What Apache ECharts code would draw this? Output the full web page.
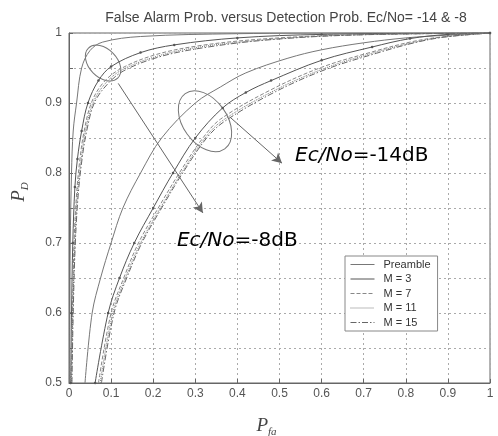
<!DOCTYPE html>
<html>
<head>
<meta charset="utf-8">
<script src="https://cdn.jsdelivr.net/npm/echarts@6/dist/echarts.min.js"></script>
<style>
  html, body { margin: 0; padding: 0; background: #fff; }
  #main { width: 498px; height: 436px; }
</style>
</head>
<body>
<div id="main"></div>
<script>
// axis ticks
var xTicks = [0, 0.1, 0.2, 0.3, 0.4, 0.5, 0.6, 0.7, 0.8, 0.9, 1];
var yTicks = [0.5, 0.6, 0.7, 0.8, 0.9, 1];

// Ec/No = -8dB  [Pfa, Pd]
var preamble8 = [[0.001,0.5],[0.002,0.6],[0.003,0.7],[0.006,0.8],[0.01,0.86],[0.018,0.9],[0.03,0.95],[0.05,0.975],[0.08,0.987],[0.17,0.995],[0.4,0.999],[0.7,1],[1,1]];
var m3_8 = [[0.004,0.5],[0.006,0.6],[0.009,0.7],[0.014,0.78],[0.02,0.82],[0.03,0.86],[0.045,0.9],[0.07,0.932],[0.1,0.952],[0.17,0.972],[0.25,0.983],[0.4,0.993],[0.6,0.998],[1,1]];
var m7_8 = [[0.005,0.5],[0.008,0.6],[0.012,0.7],[0.018,0.77],[0.026,0.82],[0.036,0.86],[0.053,0.9],[0.08,0.928],[0.12,0.948],[0.2,0.968],[0.3,0.981],[0.45,0.991],[0.65,0.997],[1,1]];
var m11_8 = [[0.006,0.5],[0.009,0.6],[0.014,0.7],[0.02,0.77],[0.029,0.82],[0.039,0.86],[0.057,0.9],[0.085,0.927],[0.125,0.947],[0.21,0.967],[0.31,0.98],[0.46,0.99],[0.66,0.997],[1,1]];
var m15_8 = [[0.007,0.5],[0.01,0.6],[0.015,0.7],[0.022,0.77],[0.031,0.82],[0.042,0.86],[0.06,0.9],[0.09,0.926],[0.13,0.946],[0.215,0.966],[0.32,0.979],[0.47,0.99],[0.67,0.997],[1,1]];

// Ec/No = -14dB  [Pfa, Pd]
var preamble14 = [[0.038,0.5],[0.055,0.6],[0.075,0.65],[0.1,0.7],[0.128,0.75],[0.17,0.8],[0.22,0.85],[0.3,0.9],[0.36,0.923],[0.42,0.943],[0.52,0.964],[0.6,0.976],[0.7,0.986],[0.8,0.993],[0.9,0.997],[1,1]];
var m3_14 = [[0.062,0.5],[0.093,0.6],[0.12,0.65],[0.155,0.7],[0.2,0.75],[0.247,0.8],[0.3,0.85],[0.365,0.893],[0.42,0.915],[0.48,0.932],[0.6,0.961],[0.72,0.98],[0.81,0.992],[0.9,0.998],[1,1]];
var m7_14 = [[0.07,0.5],[0.1,0.6],[0.13,0.65],[0.165,0.7],[0.212,0.75],[0.262,0.8],[0.318,0.85],[0.36,0.877],[0.48,0.919],[0.6,0.951],[0.72,0.973],[0.81,0.987],[0.88,0.994],[1,1]];
var m11_14 = [[0.074,0.5],[0.104,0.6],[0.134,0.65],[0.17,0.7],[0.217,0.75],[0.267,0.8],[0.323,0.85],[0.365,0.875],[0.485,0.917],[0.605,0.949],[0.725,0.972],[0.815,0.986],[0.885,0.994],[1,1]];
var m15_14 = [[0.077,0.5],[0.107,0.6],[0.137,0.65],[0.173,0.7],[0.22,0.75],[0.27,0.8],[0.327,0.85],[0.37,0.874],[0.49,0.916],[0.61,0.948],[0.73,0.971],[0.82,0.986],[0.89,0.994],[1,1]];

// annotations (data coords)
var ellipse8 = [0.081, 0.957];
var ellipse14 = [0.323, 0.874];
var arrow8 = [[0.117, 0.928], [0.318, 0.743]];
var arrow14 = [[0.382, 0.88], [0.506, 0.814]];
var label8 = [0.2565, 0.703];
var label14 = [0.537, 0.824];

var FONT = 'Liberation Sans, Arial, sans-serif';

function mk(name, data, color, type, extra) {
  var s = {
    name: name, type: 'line', data: data, smooth: 0.35,
    showSymbol: false, symbol: 'none',
    lineStyle: { color: color, width: 1, type: type },
    itemStyle: { color: color },
    silent: true
  };
  for (var k in extra) s[k] = extra[k];
  return s;
}
var dot = { showSymbol: true, symbol: 'circle', symbolSize: 2.5 };
var dashDot = [6, 2, 1.5, 2];

var series = [
  mk('Preamble', preamble14, '#777', 'solid', {}),
  mk('M = 3', m3_14, '#555', 'solid', dot),
  mk('M = 7', m7_14, '#888', 'dashed', {}),
  mk('M = 11', m11_14, '#777', 'dotted', {}),
  mk('M = 15', m15_14, '#666', dashDot, {}),
  mk('Preamble', preamble8, '#777', 'solid', {}),
  mk('M = 3', m3_8, '#555', 'solid', dot),
  mk('M = 7', m7_8, '#888', 'dashed', {}),
  mk('M = 11', m11_8, '#777', 'dotted', {}),
  mk('M = 15', m15_8, '#666', dashDot, {})
];
// arrows
series.push({
  type: 'line', data: [], silent: true,
  markLine: {
    silent: true, symbol: ['none', 'arrow'], symbolSize: [8, 10],
    label: { show: false },
    lineStyle: { color: '#666', width: 1, type: 'solid' },
    data: [
      [{ coord: arrow8[0] }, { coord: arrow8[1] }],
      [{ coord: arrow14[0] }, { coord: arrow14[1] }]
    ]
  }
});

var nameRich = {
  p: { fontFamily: 'Liberation Serif, serif', fontStyle: 'italic', fontSize: 19, color: '#444' },
  s: { fontFamily: 'Liberation Serif, serif', fontStyle: 'italic', fontSize: 11, color: '#444', padding: [13, 0, 0, 0] }
};

var option = {
  animation: false,
  backgroundColor: '#fff',
  title: {
    text: 'False Alarm Prob. versus Detection Prob. Ec/No= -14 & -8',
    left: 281, top: 6, textAlign: 'center',
    textStyle: { fontFamily: FONT, fontSize: 14, fontWeight: 'normal', color: '#444' }
  },
  grid: {
    left: 69, right: 8, top: 33, bottom: 53, outerBoundsMode: 'none', containLabel: false,
    show: true, borderColor: '#666', borderWidth: 1
  },
  legend: {
    orient: 'vertical', left: 345, top: 256,
    data: ['Preamble', 'M = 3', 'M = 7', 'M = 11', 'M = 15'],
    backgroundColor: '#fff', borderColor: '#888', borderWidth: 1,
    padding: [3, 7, 3, 5], itemGap: 3.5, itemWidth: 24, itemHeight: 11,
    itemStyle: { opacity: 0 },
    lineStyle: { width: 1 },
    textStyle: { fontFamily: FONT, fontSize: 11, color: '#333', padding: [0, 0, 0, 4] }
  },
  xAxis: {
    type: 'value', min: 0, max: 1, interval: 0.1,
    name: '{p|P}{s|fa}', nameLocation: 'middle', nameGap: 31,
    nameTextStyle: { rich: nameRich, padding: [0, 26, 0, 0] },
    axisLine: { lineStyle: { color: '#666' } },
    axisTick: { inside: true, length: 4, lineStyle: { color: '#666' } },
    axisLabel: { fontFamily: FONT, fontSize: 12, color: '#555', margin: 5 },
    splitLine: { lineStyle: { color: '#aaa', type: [2, 3] } }
  },
  yAxis: {
    type: 'value', min: 0.5, max: 1, interval: 0.05,
    name: '{p|P}{s|D}', nameLocation: 'middle', nameGap: 38, nameRotate: 90,
    nameTextStyle: { rich: nameRich, padding: [0, 0, 0, 32] },
    axisLine: { lineStyle: { color: '#666' } },
    axisTick: { inside: true, length: 4, lineStyle: { color: '#666' } },
    axisLabel: {
      fontFamily: FONT, fontSize: 12, color: '#555', margin: 7,
      formatter: function (v) {
        var r = Math.round(v * 100);
        return r % 10 === 0 ? String(r / 100) : '';
      }
    },
    splitLine: { lineStyle: { color: '#aaa', type: [2, 3] } }
  },
  series: series
};

var chart = echarts.init(document.getElementById('main'));
chart.setOption(option);

function px(p) { return chart.convertToPixel({ gridIndex: 0 }, p); }
var e8 = px(ellipse8), e14 = px(ellipse14), t8 = px(label8), t14 = px(label14);
var labelRich = {
  i: { fontFamily: 'DejaVu Sans, sans-serif', fontStyle: 'italic', fontSize: 20, color: '#777' },
  n: { fontFamily: 'DejaVu Sans, sans-serif', fontSize: 20, color: '#777' }
};
chart.setOption({
  graphic: [
    { type: 'ellipse', x: e8[0], y: e8[1], rotation: -0.8, silent: true,
      shape: { cx: 0, cy: 0, rx: 21, ry: 14 }, style: { fill: 'none', stroke: '#777', lineWidth: 1 } },
    { type: 'ellipse', x: e14[0], y: e14[1], rotation: -0.95, silent: true,
      shape: { cx: 0, cy: 0, rx: 34, ry: 22 }, style: { fill: 'none', stroke: '#777', lineWidth: 1 } },
    { type: 'text', x: t8[0], y: t8[1], silent: true,
      style: { text: '{i|Ec/No}{n|=-8dB}', rich: labelRich, verticalAlign: 'middle' } },
    { type: 'text', x: t14[0], y: t14[1], silent: true,
      style: { text: '{i|Ec/No}{n|=-14dB}', rich: labelRich, verticalAlign: 'middle' } }
  ]
});
</script>
</body>
</html>
